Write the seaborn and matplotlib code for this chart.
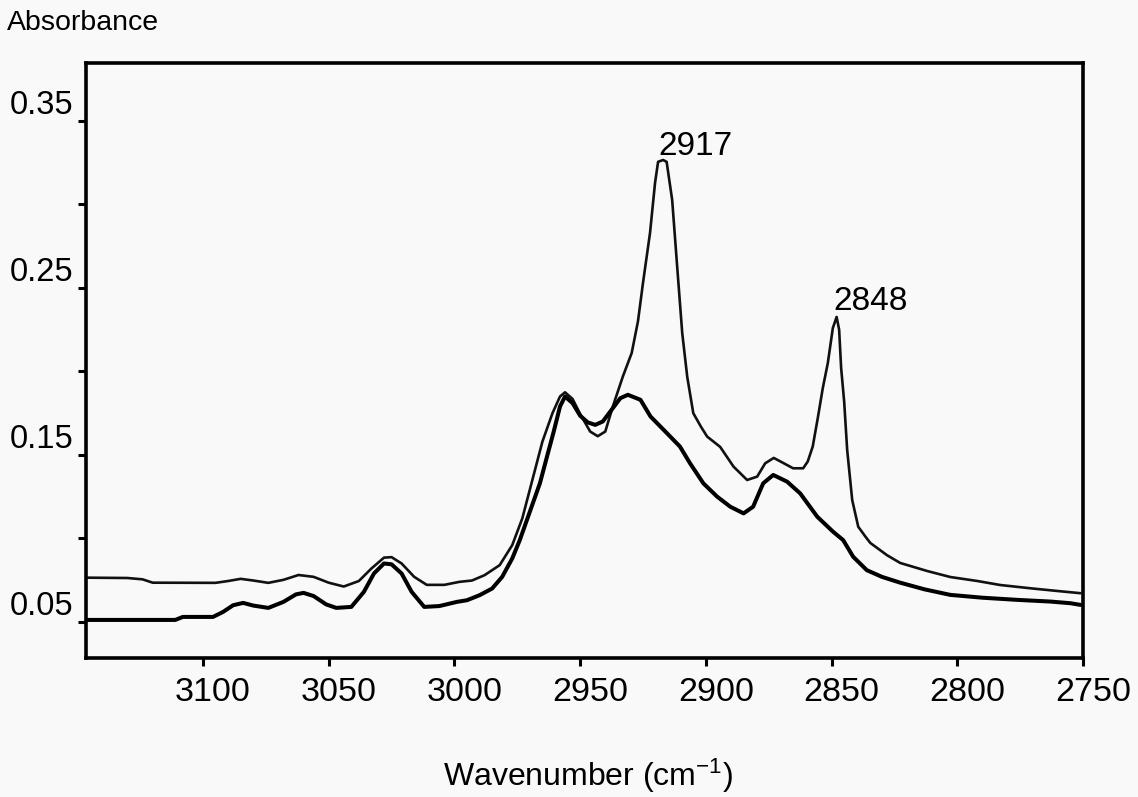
import matplotlib
matplotlib.use("Agg")
import matplotlib.pyplot as plt
import matplotlib.transforms as mtransforms
import seaborn as sns
import pandas as pd

# Upper spectrum (thin line), wavenumber in cm-1 and absorbance
upper_wn = [3146, 3130, 3124, 3120, 3095, 3090, 3085, 3080, 3074, 3068, 3062, 3056,
            3050, 3044, 3038, 3033, 3028, 3025, 3021, 3016, 3011, 3004, 2998, 2993,
            2988, 2982, 2977, 2973, 2969, 2965, 2961, 2958, 2956, 2953, 2950, 2946,
            2943, 2940, 2937, 2933, 2929.5, 2927, 2925, 2922.2, 2920.2, 2919, 2917,
            2915.6, 2913.4, 2911.4, 2909.4, 2907.4, 2905, 2902, 2899.5, 2894.3, 2889,
            2883.6, 2879.6, 2876.4, 2873, 2869, 2865.3, 2861.3, 2859.5, 2857.5, 2855.5,
            2853.5, 2851.5, 2849.5, 2848, 2847, 2846.2, 2845, 2843.8, 2841.8, 2839.4,
            2836.5, 2834.6, 2828, 2822.7, 2812, 2802.8, 2792, 2782.9, 2770, 2760, 2751]
upper_abs = [0.0765, 0.0763, 0.0755, 0.0735, 0.0734, 0.0745, 0.0758, 0.0748, 0.0734, 0.0752, 0.0781, 0.0770,
             0.0735, 0.0712, 0.0745, 0.0820, 0.0885, 0.0888, 0.0850, 0.0770, 0.0722, 0.0722, 0.0740, 0.0748,
             0.0780, 0.0840, 0.0960, 0.1120, 0.1350, 0.1580, 0.1750, 0.1850, 0.1875, 0.1835, 0.1745, 0.1640,
             0.1612, 0.1640, 0.1790, 0.1970, 0.2110, 0.2300, 0.2530, 0.2830, 0.3130, 0.3255, 0.3266,
             0.3255, 0.3027, 0.2626, 0.2230, 0.1967, 0.1750, 0.1670, 0.1610, 0.1548, 0.1430,
             0.1350, 0.1370, 0.1450, 0.1482, 0.1450, 0.1420, 0.1420, 0.1460, 0.1550, 0.1720,
             0.1900, 0.2050, 0.2260, 0.2326, 0.2250, 0.2020, 0.1820, 0.1530, 0.1230, 0.1070,
             0.1010, 0.0973, 0.0900, 0.0853, 0.0805, 0.0769, 0.0745, 0.0721, 0.0700, 0.0685, 0.0672]

# Lower spectrum (thick line)
lower_wn = [3146, 3111, 3108, 3096, 3092, 3088, 3084, 3080, 3074, 3068, 3063, 3060,
            3056, 3051, 3047, 3041, 3036, 3032, 3028, 3025, 3021, 3017, 3012, 3006,
            2999, 2995, 2990, 2985, 2981, 2977, 2974, 2970, 2966, 2963, 2960.5, 2958,
            2956, 2953, 2950, 2947, 2944, 2941, 2937, 2934, 2931, 2926, 2922, 2915.6,
            2910.3, 2906.3, 2901, 2895.5, 2890.3, 2885, 2881.2, 2877.2, 2873.2, 2867.7,
            2862.5, 2855.7, 2849.4, 2845.4, 2841.4, 2836, 2830, 2822.7, 2813, 2802.8,
            2790, 2776, 2763, 2755, 2751]
lower_abs = [0.0512, 0.0512, 0.0530, 0.0530, 0.0560, 0.0600, 0.0614, 0.0598, 0.0584, 0.0620, 0.0665, 0.0674,
             0.0655, 0.0605, 0.0584, 0.0590, 0.0680, 0.0790, 0.0850, 0.0845, 0.0790, 0.0680, 0.0590, 0.0595,
             0.0620, 0.0630, 0.0660, 0.0700, 0.0770, 0.0880, 0.0990, 0.1160, 0.1330, 0.1500, 0.1640, 0.1790,
             0.1850, 0.1810, 0.1735, 0.1695, 0.1680, 0.1700, 0.1780, 0.1840, 0.1860, 0.1830, 0.1730, 0.1632,
             0.1550, 0.1450, 0.1330, 0.1250, 0.1190, 0.1150, 0.1190, 0.1330, 0.1380, 0.1340,
             0.1270, 0.1130, 0.1040, 0.0990, 0.0890, 0.0810, 0.0770, 0.0735, 0.0695, 0.0662,
             0.0645, 0.0632, 0.0622, 0.0612, 0.0602]

# Labelled band positions on the upper spectrum
peak_wn = [2917, 2848]
peak_abs = [0.3266, 0.2326]
peak_offsets = [(-3.6, 3.6), (-2.5, 5.0)]

y_ticks = [0.05, 0.10, 0.15, 0.20, 0.25, 0.30, 0.35]
y_ticklabels = ["0.05", "", "0.15", "", "0.25", "", "0.35"]
x_ticks = [3100, 3050, 3000, 2950, 2900, 2850, 2800, 2750]
x_ticklabels = ["3100", "3050", "3000", "2950", "2900", "2850", "2800", "2750"]

sns.set_theme(style="white")
plt.rcParams["font.family"] = ["Liberation Sans", "DejaVu Sans"]
plt.rcParams["mathtext.fontset"] = "custom"
plt.rcParams["mathtext.rm"] = "Liberation Sans"
plt.rcParams["mathtext.default"] = "regular"

bg = "#f9f9f9"
fig = plt.figure(figsize=(11.38, 7.97), dpi=100, facecolor=bg)
ax = fig.add_axes([0.0756, 0.1744, 0.8761, 0.7466], facecolor=bg)

upper = pd.DataFrame({"wn": upper_wn, "A": upper_abs})
lower = pd.DataFrame({"wn": lower_wn, "A": lower_abs})
sns.lineplot(data=upper, x="wn", y="A", sort=False, estimator=None,
             color="#111111", linewidth=1.9, ax=ax)
sns.lineplot(data=lower, x="wn", y="A", sort=False, estimator=None,
             color="#000000", linewidth=2.9, ax=ax)

for wn, a, (dx, dy) in zip(peak_wn, peak_abs, peak_offsets):
    ax.annotate(f"{wn}", xy=(wn, a), xytext=(dx, dy), textcoords="offset points",
                ha="left", va="baseline", fontsize=24, color="black")

ax.set_xlim(3146.5, 2750)
ax.set_ylim(0.0284, 0.3847)
ax.set_xticks(x_ticks)
ax.set_xticklabels(x_ticklabels)
ax.set_yticks(y_ticks)
ax.set_yticklabels(y_ticklabels)
ax.set_xlabel("")
ax.set_ylabel("")

for side in ax.spines.values():
    side.set_linewidth(2.6)
    side.set_color("black")

ax.tick_params(axis="both", direction="out", length=6, width=2.2, color="black",
               labelcolor="black")
ax.tick_params(axis="x", pad=8, bottom=True, labelsize=24.5)
ax.tick_params(axis="y", pad=3, left=True, labelsize=23.5)

# shift tick labels slightly, as in the original layout
for lbl in ax.get_xticklabels():
    lbl.set_transform(lbl.get_transform() + mtransforms.ScaledTranslation(0.10, 0, fig.dpi_scale_trans))
for lbl in ax.get_yticklabels():
    lbl.set_transform(lbl.get_transform() + mtransforms.ScaledTranslation(0, 0.19, fig.dpi_scale_trans))

fig.text(7 / 1138, 1 - 30 / 797, "Absorbance", ha="left", va="baseline", fontsize=20.5, color="black")
fig.text(588 / 1138, 1 - 786 / 797, "Wavenumber (cm$^{-1}$)", ha="center", va="baseline",
         fontsize=23, color="black")

fig.savefig("out.png", dpi=100, facecolor=bg)
